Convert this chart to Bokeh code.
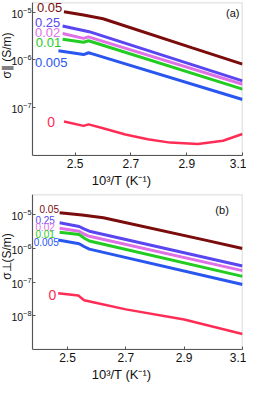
import math
from bokeh.plotting import figure
from bokeh.layouts import column
from bokeh.models import FixedTicker, Label, Range1d, BoxAnnotation
from bokeh.embed import file_html
from bokeh.resources import INLINE

FONT = "Liberation Sans"

series_names = ["0.05", "0.25", "0.02", "0.01", "0.005", "0"]
colors = ["#7a0c0c", "#5a46f0", "#e070e6", "#22cc22", "#2a56f0", "#ff2d55"]

# Panel (a): sigma parallel
a_x = {
    "0.05": [2.46, 2.53, 2.60, 2.92, 3.10],
    "0.25": [2.455, 2.50, 2.55, 3.10],
    "0.02": [2.455, 2.53, 2.548, 2.565, 3.10],
    "0.01": [2.455, 2.53, 2.548, 2.565, 3.10],
    "0.005": [2.44, 2.53, 2.548, 2.565, 3.10],
    "0": [2.46, 2.53, 2.548, 2.60, 2.68, 2.76, 2.84, 2.94, 3.03, 3.10],
}
a_y = {
    "0.05": [1.02e-5, 8.71e-6, 7.24e-6, 1.78e-6, 8.13e-7],
    "0.25": [5.13e-6, 4.47e-6, 3.89e-6, 3.63e-7],
    "0.02": [3.55e-6, 2.82e-6, 3.02e-6, 2.82e-6, 3.09e-7],
    "0.01": [2.69e-6, 2.34e-6, 2.51e-6, 2.34e-6, 2.45e-7],
    "0.005": [1.55e-6, 1.29e-6, 1.41e-6, 1.32e-6, 1.48e-7],
    "0": [5.13e-8, 4.17e-8, 4.47e-8, 3.72e-8, 2.75e-8, 2.19e-8, 1.86e-8, 1.74e-8, 2.04e-8, 2.82e-8],
}

# Panel (b): sigma perpendicular
b_x = {
    "0.05": [2.473, 2.55, 2.623, 2.98, 3.10],
    "0.25": [2.473, 2.54, 2.558, 2.575, 3.10],
    "0.02": [2.473, 2.54, 2.558, 2.575, 3.10],
    "0.01": [2.473, 2.54, 2.558, 2.575, 3.10],
    "0.005": [2.468, 2.54, 2.558, 2.575, 3.10],
    "0": [2.468, 2.537, 2.557, 2.60, 2.70, 2.90, 3.10],
}
b_y = {
    "0.05": [1.15e-5, 9.77e-6, 8.13e-6, 1.70e-6, 1.00e-6],
    "0.25": [5.75e-6, 4.47e-6, 3.72e-6, 3.24e-6, 3.02e-7],
    "0.02": [3.98e-6, 3.24e-6, 2.63e-6, 2.29e-6, 2.19e-7],
    "0.01": [3.02e-6, 2.57e-6, 2.00e-6, 1.66e-6, 1.48e-7],
    "0.005": [1.78e-6, 1.38e-6, 1.12e-6, 9.55e-7, 8.51e-8],
    "0": [4.68e-8, 3.98e-8, 2.88e-8, 2.40e-8, 1.55e-8, 7.76e-9, 2.88e-9],
}

x_ticks = [2.5, 2.7, 2.9, 3.1]
a_y_ticks = [1e-7, 1e-6, 1e-5]
b_y_ticks = [1e-8, 1e-7, 1e-6, 1e-5]

# label anchor positions (data coords) for series names
a_lab = {"0.05": (2.363, 10**-4.90), "0.25": (2.356, 10**-5.22), "0.02": (2.356, 10**-5.42),
         "0.01": (2.359, 10**-5.64), "0.005": (2.356, 10**-6.06), "0": (2.40, 10**-7.30)}
b_lab = {"0.05": (2.404, 10**-4.83), "0.25": (2.39, 10**-5.17), "0.02": (2.39, 10**-5.37),
         "0.01": (2.39, 10**-5.57), "0.005": (2.384, 10**-5.80), "0": (2.435, 10**-7.37)}

AX = "#555555"


def make_fig(xleft, xr, yr, height, top, bottom, yticks, ylabel, ylabel_y, panel, panel_pos,
             xs, ys, labpos, labsize, zero_size):
    p = figure(width=246, height=height, x_range=Range1d(xleft, xr[1]), y_range=Range1d(*yr),
               y_axis_type="log", output_backend="svg", toolbar_location=None,
               min_border_left=0, min_border_right=4, min_border_top=top,
               min_border_bottom=bottom)
    p.grid.visible = False
    p.outline_line_color = None
    p.background_fill_color = "white"
    p.border_fill_color = "white"
    for ax in (p.xaxis[0], p.yaxis[0]):
        ax.axis_line_color = AX
        ax.major_tick_line_color = AX
        ax.major_tick_in = 3
        ax.major_tick_out = 0
        ax.minor_tick_line_color = None
        ax.major_label_text_font = FONT
        ax.major_label_text_color = "#111111"
    p.xaxis.ticker = FixedTicker(ticks=x_ticks)
    p.xaxis.bounds = (xr[0], xr[1])
    p.yaxis.ticker = FixedTicker(ticks=yticks, minor_ticks=[])
    p.yaxis.fixed_location = xr[0]
    p.xaxis.major_label_text_font_size = "12px"
    p.yaxis.major_label_text_font_size = "10.5px"
    p.xaxis.major_label_standoff = 3
    p.yaxis.major_label_standoff = 1
    p.xaxis.axis_label = "10³/T (K⁻¹)"
    p.xaxis.axis_label_text_font = FONT
    p.xaxis.axis_label_text_font_style = "normal"
    p.xaxis.axis_label_text_font_size = "13px"
    p.xaxis.axis_label_standoff = 2
    p.xaxis.axis_label_text_color = "#111111"

    p.add_layout(BoxAnnotation(left=xr[0], fill_alpha=0, line_color=AX, line_width=1.5))

    for name, c in zip(series_names, colors):
        lw = 2.5 if name == "0" else 3
        p.line(xs[name], ys[name], line_color=c, line_width=lw)
        lx, ly = labpos[name]
        p.add_layout(Label(x=lx, y=ly, text=name, text_color=c, text_font=FONT,
                           text_font_size=(zero_size if name == "0" else labsize),
                           text_align="left", text_baseline="middle"))

    p.add_layout(Label(x=6, y=ylabel_y, x_units="screen", y_units="screen", text=ylabel,
                       angle=math.pi / 2, text_align="center", text_baseline="middle",
                       text_font=FONT, text_font_size="12px", text_color="#111111"))
    p.add_layout(Label(x=panel_pos[0], y=panel_pos[1], text=panel, text_font=FONT,
                       text_font_size="11px", text_align="center", text_baseline="middle",
                       text_color="#111111"))
    return p


p1 = make_fig(2.2323, (2.347, 3.1), (1e-8, 10**-4.8), 190, 2, 34, a_y_ticks, "σ∥ (S/m)", 100,
              "(a)", (3.065, 10**-5.02), a_x, a_y, a_lab, "13px", "14px")
p2 = make_fig(2.2703, (2.38, 3.1), (1e-9, 10**-4.4), 194, 4, 32, b_y_ticks, "σ⊥(S/m)", 93,
              "(b)", (3.03, 10**-4.86), b_x, b_y, b_lab, "10px", "14px")

layout = column(p1, p2, spacing=0)
open("out.html", "w").write(file_html(layout, INLINE))
